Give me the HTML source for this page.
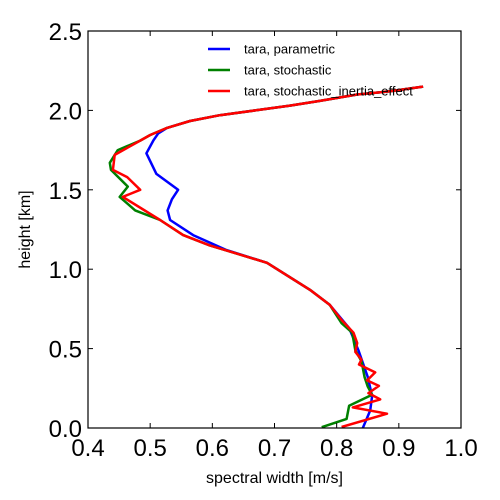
<!DOCTYPE html>
<html><head><meta charset="utf-8"><style>
html,body{margin:0;padding:0;background:#fff;}
svg{display:block;font-family:"Liberation Sans","DejaVu Sans",sans-serif;}
</style></head><body>
<svg id="chart" width="500" height="500"></svg>
<script>
const xTicks=[0.4,0.5,0.6,0.7,0.8,0.9,1.0];
const xTickLabels=["0.4","0.5","0.6","0.7","0.8","0.9","1.0"];
const yTicks=[0,0.5,1.0,1.5,2.0,2.5];
const yTickLabels=["0.0","0.5","1.0","1.5","2.0","2.5"];
const seriesNames=["tara, parametric","tara, stochastic","tara, stochastic_inertia_effect"];
const seriesColors=["#0000ff","#008000","#ff0000"];
const parametricH=[0,0.11,0.2,0.32,0.49,0.63,0.775,0.87,1.04,1.12,1.215,1.31,1.37,1.44,1.5,1.6,1.73,1.81,1.855,1.89,1.933,1.97,2.0,2.03,2.06,2.1,2.12,2.15];
const parametricW=[0.842,0.854,0.857,0.85,0.835,0.82,0.789,0.757,0.688,0.623,0.569,0.532,0.528,0.535,0.545,0.51,0.494,0.505,0.513,0.527,0.564,0.612,0.669,0.725,0.773,0.833,0.886,0.939];
const stochasticH=[0.005,0.057,0.14,0.21,0.26,0.32,0.42,0.49,0.6,0.66,0.775,0.87,1.04,1.15,1.215,1.31,1.37,1.455,1.52,1.625,1.67,1.75,1.81,1.845,1.89,1.933,1.97,2.0,2.03,2.06,2.1,2.12,2.15];
const stochasticW=[0.776,0.816,0.82,0.857,0.85,0.845,0.84,0.83,0.825,0.808,0.789,0.757,0.688,0.596,0.553,0.516,0.476,0.451,0.464,0.437,0.435,0.448,0.484,0.5,0.527,0.564,0.612,0.669,0.725,0.773,0.833,0.886,0.939];
const inertiaH=[0.006,0.09,0.13,0.18,0.22,0.265,0.3,0.35,0.4,0.43,0.48,0.535,0.6,0.68,0.775,0.87,1.04,1.15,1.215,1.31,1.455,1.5,1.58,1.625,1.72,1.81,1.845,1.89,1.933,1.97,2.0,2.03,2.06,2.1,2.12,2.15];
const inertiaW=[0.808,0.881,0.826,0.87,0.851,0.868,0.849,0.862,0.836,0.84,0.83,0.833,0.827,0.808,0.789,0.757,0.688,0.596,0.553,0.516,0.456,0.484,0.463,0.44,0.443,0.484,0.5,0.527,0.564,0.612,0.669,0.725,0.773,0.833,0.886,0.939];
const allH=[parametricH,stochasticH,inertiaH];
const allW=[parametricW,stochasticW,inertiaW];

const L=88,R=461,T=31,B=428,xMin=0.4,xMax=1.0,yMin=0,yMax=2.5;
const sx=v=>L+(v-xMin)/(xMax-xMin)*(R-L);
const sy=v=>B-(v-yMin)/(yMax-yMin)*(B-T);
const NS="http://www.w3.org/2000/svg";
const svg=document.getElementById('chart');
function mk(tag,attrs,parent){const e=document.createElementNS(NS,tag);for(const k in attrs)e.setAttribute(k,attrs[k]);(parent||svg).appendChild(e);return e;}

const clip=mk('clipPath',{id:'plotclip'});mk('rect',{x:L,y:T,width:R-L,height:B-T},clip);
const g=mk('g',{'clip-path':'url(#plotclip)'});
for(let s=0;s<3;s++){
  const d=allH[s].map((h,i)=>(i?'L':'M')+sx(allW[s][i]).toFixed(1)+','+sy(h).toFixed(1)).join(' ');
  const p=mk('path',{d:d,fill:'none',stroke:seriesColors[s],'stroke-width':2.5,'stroke-linejoin':'round'},g);
  
  
}
const frame=mk('rect',{x:L,y:T,width:R-L,height:B-T,fill:'none',stroke:'#000','stroke-width':1.2});


xTicks.forEach((v,i)=>{
  const x=sx(v);
  mk('line',{x1:x,x2:x,y1:B,y2:B-5,stroke:'#000'});
  mk('line',{x1:x,x2:x,y1:T,y2:T+5,stroke:'#000'});
  const t=mk('text',{x:x,y:B+28,'font-size':24,'text-anchor':'middle'});t.textContent=xTickLabels[i];
  
  
});
yTicks.forEach((v,i)=>{
  const y=sy(v);
  mk('line',{x1:L,x2:L+5,y1:y,y2:y,stroke:'#000'});
  mk('line',{x1:R,x2:R-5,y1:y,y2:y,stroke:'#000'});
  const t=mk('text',{x:L-6,y:y+9,'font-size':24,'text-anchor':'end'});t.textContent=yTickLabels[i];
  
  
});
const xl=mk('text',{x:(L+R)/2,y:483,'font-size':16,'text-anchor':'middle'});xl.textContent='spectral width [m/s]';


const yl=mk('text',{x:0,y:0,'font-size':16,'text-anchor':'middle',transform:'translate(30,'+((T+B)/2)+') rotate(-90)'});yl.textContent='height [km]';


seriesNames.forEach((n,i)=>{
  const y=49+i*21;
  const lg=mk('g',{});
  
  
  mk('line',{x1:208,x2:230,y1:y,y2:y,stroke:seriesColors[i],'stroke-width':2.5},lg);
  const t=mk('text',{x:244,y:y+4.5,'font-size':13},lg);t.textContent=n;
});
</script>
</body></html>
